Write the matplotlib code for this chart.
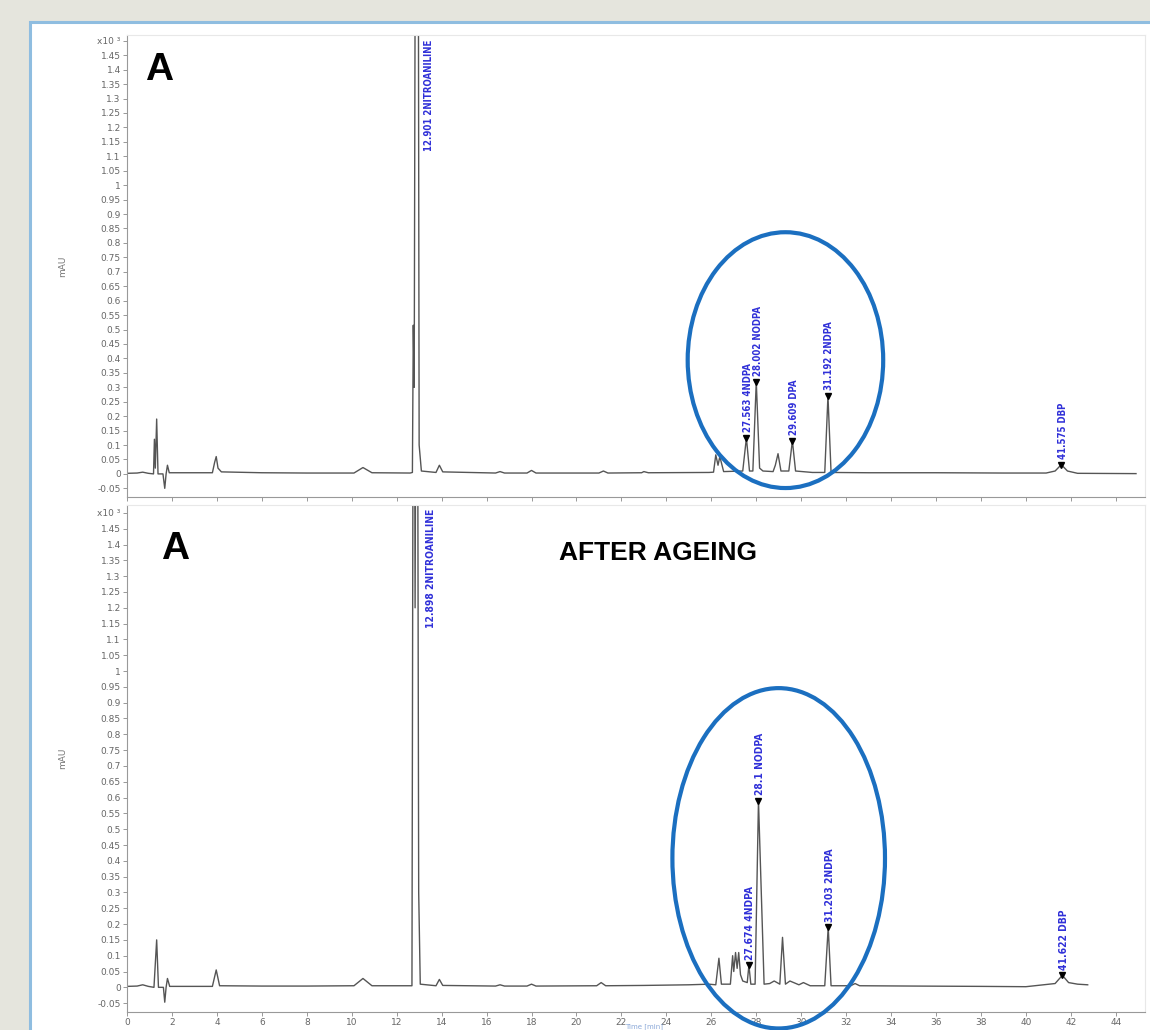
import numpy as np
import matplotlib
matplotlib.use("Agg")
import matplotlib.pyplot as plt
from matplotlib.patches import Ellipse, Rectangle

# --- trace before ageing (time in min, signal) ---
top_t = [0.0, 0.45, 0.7, 0.95, 1.18, 1.22, 1.26, 1.32, 1.38, 1.6, 1.68, 1.74, 1.8, 1.88,
         2.5, 3.8, 3.9, 3.97, 4.05, 4.2, 6.0, 8.0, 10.1, 10.5, 10.9, 12.6, 12.7, 12.74,
         12.78, 12.86, 12.94, 13.0, 13.1, 13.75, 13.9, 14.05, 16.4, 16.6, 16.8, 17.8,
         18.0, 18.2, 21.0, 21.2, 21.4, 22.9, 23.0, 23.2, 25.9, 26.1, 26.2, 26.3, 26.38,
         26.55, 27.4, 27.563, 27.7, 27.85, 28.002, 28.15, 28.3, 28.75, 28.85, 28.97, 29.1,
         29.45, 29.609, 29.75, 30.5, 31.05, 31.192, 31.33, 33.0, 36.0, 39.0, 40.9, 41.3,
         41.575, 41.85, 42.3, 44.9]
top_v = [0.002, 0.003, 0.006, 0.002, 0.0, 0.12, 0.02, 0.19, 0.0, 0.0, -0.05, 0.0, 0.03, 0.004,
         0.004, 0.004, 0.04, 0.06, 0.02, 0.007, 0.004, 0.003, 0.003, 0.022, 0.004, 0.003, 0.005, 0.515,
         0.3, 3.0, 3.0, 0.1, 0.01, 0.005, 0.03, 0.007, 0.003, 0.008, 0.003, 0.003,
         0.012, 0.003, 0.003, 0.01, 0.003, 0.004, 0.008, 0.004, 0.005, 0.006, 0.066, 0.03, 0.06,
         0.008, 0.01, 0.125, 0.01, 0.01, 0.32, 0.02, 0.01, 0.008, 0.03, 0.07, 0.01,
         0.01, 0.115, 0.01, 0.005, 0.005, 0.27, 0.005, 0.004, 0.004, 0.003, 0.003, 0.01,
         0.032, 0.01, 0.002, 0.001]

# --- trace after ageing ---
bot_t = [0.0, 0.45, 0.7, 0.95, 1.2, 1.32, 1.4, 1.62, 1.68, 1.74, 1.8, 1.9, 3.8, 3.97, 4.12,
         6.0, 8.0, 10.1, 10.5, 10.9, 12.68, 12.76, 12.82, 12.9, 12.98, 13.05, 13.75, 13.9,
         14.05, 16.4, 16.6, 16.8, 17.8, 18.0, 18.2, 20.9, 21.1, 21.3, 23.0, 25.0, 25.9,
         26.2, 26.34, 26.45, 26.85, 26.95, 27.0, 27.08, 27.15, 27.22, 27.3, 27.4, 27.6,
         27.674, 27.76, 27.95, 28.1, 28.35, 28.6, 28.8, 29.05, 29.17, 29.3, 29.5, 29.9,
         30.1, 30.4, 31.05, 31.203, 31.33, 32.2, 32.4, 32.6, 35.0, 38.0, 40.0, 41.3,
         41.622, 41.9, 42.3, 42.75]
bot_v = [0.003, 0.004, 0.008, 0.003, 0.0, 0.15, 0.0, 0.0, -0.047, 0.0, 0.028, 0.003, 0.003, 0.055, 0.005,
         0.004, 0.004, 0.005, 0.028, 0.005, 0.005, 3.0, 1.2, 3.0, 0.3, 0.01, 0.005, 0.025,
         0.006, 0.004, 0.008, 0.004, 0.004, 0.01, 0.004, 0.005, 0.015, 0.005, 0.006, 0.008, 0.01,
         0.008, 0.092, 0.01, 0.01, 0.1, 0.05, 0.11, 0.06, 0.11, 0.04, 0.02, 0.015,
         0.07, 0.01, 0.01, 0.59, 0.01, 0.012, 0.02, 0.01, 0.158, 0.01, 0.02, 0.008,
         0.015, 0.005, 0.005, 0.19, 0.005, 0.005, 0.012, 0.005, 0.004, 0.003, 0.002, 0.012,
         0.038, 0.015, 0.01, 0.008]

# --- integrated peaks (retention time, name, apex height) ---
top_pk_t = [27.563, 28.002, 29.609, 31.192, 41.575]
top_pk_name = ["4NDPA", "NODPA", "DPA", "2NDPA", "DBP"]
top_pk_h = [0.125, 0.32, 0.115, 0.27, 0.032]
top_main = (12.901, "2NITROANILINE")

bot_pk_t = [27.674, 28.1, 31.203, 41.622]
bot_pk_lbl = ["27.674 4NDPA", "28.1 NODPA", "31.203 2NDPA", "41.622 DBP"]
bot_pk_h = [0.07, 0.59, 0.19, 0.038]
bot_main = (12.898, "2NITROANILINE")

x_ticks = list(range(0, 45, 2))
y_ticks = [round(-0.05 + 0.05 * i, 2) for i in range(32)]

W, H = 1150, 1030
fig = plt.figure(figsize=(W / 100, H / 100), dpi=100)
fig.patch.set_facecolor("#e5e5dd")
# white slide panel with blue frame
fig.add_artist(Rectangle((30 / W, -0.1), 1.2, 1.1 - 22 / H, transform=fig.transFigure,
                         facecolor="white", edgecolor="#8fbde0", lw=2.2, zorder=-5))

def px_axes(l, t, r, b):
    return fig.add_axes([l / W, 1 - b / H, (r - l) / W, (b - t) / H])

ax1 = px_axes(127, 35, 1145, 497)
ax2 = px_axes(127, 505, 1145, 1012)

lbl_font = dict(family=["DejaVu Sans"], stretch="condensed", weight="bold", color="#3030d8")

def style(ax, ylo, yhi, xhi, show_x):
    ax.set_facecolor("none")
    ax.set_xlim(0, xhi)
    ax.set_ylim(ylo, yhi)
    ax.set_yticks(y_ticks)
    labels = [("%g" % v) for v in y_ticks]
    labels[-1] = "x10 ³"
    ax.set_yticklabels(labels)
    ax.set_xticks(x_ticks)
    ax.tick_params(axis="both", direction="out", length=3, width=0.6, colors="#888",
                   labelsize=6.5, labelcolor="#666", pad=1.5)
    ax.tick_params(axis="x", labelbottom=show_x)
    for s in ["top", "right"]:
        ax.spines[s].set_color("#e8e8e8")
        ax.spines[s].set_linewidth(0.8)
    for s in ["left", "bottom"]:
        ax.spines[s].set_color("#999")
        ax.spines[s].set_linewidth(0.8)
    ax.set_ylabel("mAU", fontsize=6.5, color="#777", labelpad=22)

style(ax1, -0.08, 1.52, 45.3, False)
style(ax2, -0.078, 1.525, 45.3, True)
# time axis title squeezed under the tick labels
fig.text(644 / W, 1 - 1026.5 / H, "Time [min]", fontsize=5, color="#8aa8d8",
         ha="center", va="center")

# traces
ax1.plot(top_t, top_v, color="#555", lw=1.0)
ax2.plot(bot_t, bot_v, color="#555", lw=1.0)

# peak markers and labels
for t, name, h in zip(top_pk_t, top_pk_name, top_pk_h):
    ax1.plot(t, h, marker="v", color="black", ms=5, ls="none")
    ax1.annotate("%.3f %s" % (t, name), xy=(t, h), xytext=(1, 4), textcoords="offset points",
                 rotation=90, ha="center", va="bottom", fontsize=6.9, **lbl_font)
ax1.annotate("%.3f %s" % top_main, xy=(top_main[0], 1.52), xytext=(8.5, -3),
             textcoords="offset points", rotation=90, ha="center", va="top", fontsize=6.9,
             **lbl_font)

for t, lab, h in zip(bot_pk_t, bot_pk_lbl, bot_pk_h):
    ax2.plot(t, h, marker="v", color="black", ms=5, ls="none")
    ax2.annotate(lab, xy=(t, h), xytext=(1, 4), textcoords="offset points",
                 rotation=90, ha="center", va="bottom", fontsize=7.4, **lbl_font)
ax2.annotate("%.3f %s" % bot_main, xy=(bot_main[0], 1.525), xytext=(10, -3),
             textcoords="offset points", rotation=90, ha="center", va="top", fontsize=7.4,
             **lbl_font)

# circled region of the nitro-DPA derivatives
ax1.add_patch(Ellipse((29.3, 0.394), 8.7, 0.886, fill=False, edgecolor="#1b6fc0",
                      lw=3, clip_on=False, zorder=10))
ax2.add_patch(Ellipse((29.0, 0.408), 9.46, 1.076, fill=False, edgecolor="#1b6fc0",
                      lw=3, clip_on=False, zorder=10))

# panel titles
fig.text(159 / W, 1 - 70 / H, "A", fontsize=28, fontweight="bold", color="black",
         ha="center", va="center", family="Liberation Sans")
fig.text(175 / W, 1 - 549 / H, "A", fontsize=28, fontweight="bold", color="black",
         ha="center", va="center", family="Liberation Sans")
fig.text(658 / W, 1 - 553 / H, "AFTER AGEING", fontsize=19, fontweight="bold",
         color="black", ha="center", va="center", family="Liberation Sans")

fig.savefig("out.png", dpi=100, facecolor=fig.get_facecolor())
